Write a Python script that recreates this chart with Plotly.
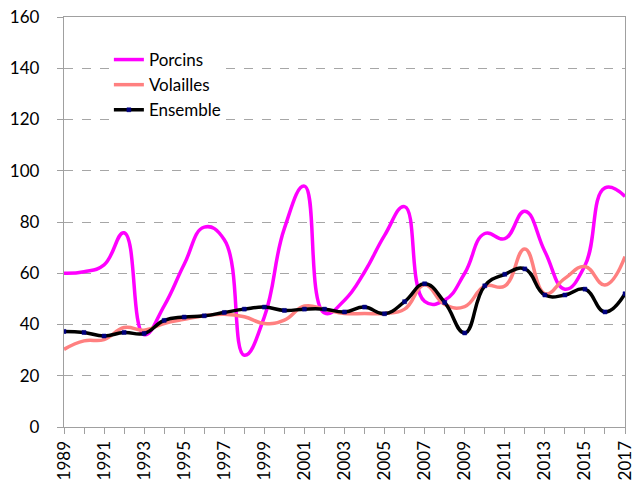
import plotly.graph_objects as go

years = list(range(1989, 2018))

porcins = [60.0, 60.6, 63.3, 75.8, 36.0, 47.3, 63.5, 78.0, 73.1, 28.0,
           43.0, 77.5, 94.0, 44.5, 49.5, 60.5, 74.8, 86.0, 49.0, 49.5,
           60.0, 75.5, 73.5, 84.2, 68.5, 53.8, 63.0, 93.3, 90.0]

volailles = [30.3, 33.6, 34.1, 38.8, 37.8, 40.4, 42.0, 43.4, 44.0, 43.0,
             40.4, 41.7, 47.2, 45.9, 44.3, 44.3, 44.3, 46.0, 55.5, 47.8,
             47.0, 55.0, 55.0, 69.5, 52.0, 58.0, 62.6, 55.4, 66.5]

ensemble = [37.3, 36.9, 35.5, 36.9, 36.5, 41.6, 42.9, 43.4, 44.7, 46.0,
            46.8, 45.5, 46.0, 46.0, 44.9, 46.8, 44.2, 48.9, 55.9, 48.6,
            36.7, 55.1, 59.6, 61.7, 51.5, 51.5, 53.8, 44.9, 52.0]

x_ticks = list(range(1989, 2018, 2))
y_ticks = list(range(0, 161, 20))

FONT = "Lato"
SMOOTH = 1.3

fig = go.Figure()
fig.add_trace(go.Scatter(x=years, y=porcins, name="Porcins", mode="lines",
                         line=dict(color="#FF00FF", width=3.5, shape="spline", smoothing=SMOOTH)))
fig.add_trace(go.Scatter(x=years, y=volailles, name="Volailles", mode="lines",
                         line=dict(color="#FF8080", width=3.5, shape="spline", smoothing=SMOOTH)))
fig.add_trace(go.Scatter(x=years, y=ensemble, name="Ensemble", mode="lines+markers",
                         line=dict(color="#000000", width=3.5, shape="spline", smoothing=SMOOTH),
                         marker=dict(symbol="square", size=4, color="#000080",
                                     line=dict(color="#000080", width=0.5))))

fig.update_layout(
    width=639, height=489,
    margin=dict(l=64, r=14, t=17, b=62),
    paper_bgcolor="white", plot_bgcolor="white",
    font=dict(family=FONT, size=17, color="black"),
    showlegend=True,
    legend=dict(x=0.080, y=0.939, xanchor="left", yanchor="top",
                bgcolor="white", borderwidth=0, tracegroupgap=0,
                font=dict(family=FONT, size=17, color="black")),
    xaxis=dict(range=[1989, 2017], tickmode="array", tickvals=x_ticks,
               ticktext=[str(v) for v in x_ticks], tickangle=-90,
               ticks="outside", ticklen=6, tickcolor="#a0a0a0",
               showline=True, linecolor="#a0a0a0", linewidth=1.3, mirror=True,
               showgrid=False, zeroline=False, automargin=False,
               minor=dict(dtick=1, tick0=1989, ticks="outside", ticklen=6,
                          tickcolor="#a0a0a0", showgrid=False),
               tickfont=dict(family=FONT, size=17)),
    yaxis=dict(range=[0, 160], tickmode="array", tickvals=y_ticks,
               ticks="outside", ticklen=6, tickcolor="#a0a0a0",
               showline=True, linecolor="#a0a0a0", linewidth=1.3, mirror=True,
               showgrid=True, gridcolor="#a6a6a6", griddash="dash", gridwidth=1,
               zeroline=False, ticklabelstandoff=14, automargin=False,
               tickfont=dict(family=FONT, size=17)),
)

fig.write_html("out.html",
               config={"displayModeBar": False},
               post_script="document.body.style.margin='0';document.body.style.padding='0';")
